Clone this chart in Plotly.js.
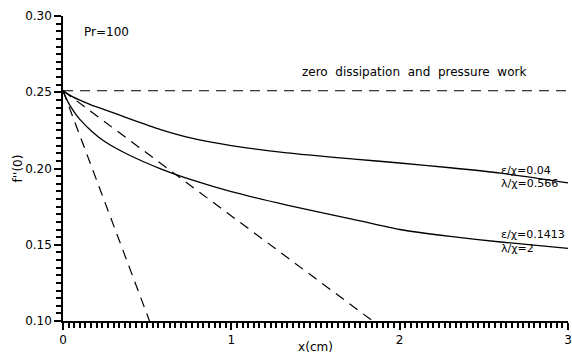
<!DOCTYPE html>
<html>
<head>
<meta charset="utf-8">
<script src="https://cdn.plot.ly/plotly-3.0.1.min.js"></script>
<style>html,body{margin:0;padding:0;background:#fff;}#chart{width:572px;height:354px;}</style>
</head>
<body>
<div id="chart"></div>
<script>
// Upper solid curve: eps/chi = 0.04, lambda/chi = 0.566
const xUpper = [0, 0.05, 0.1, 0.17, 0.25, 0.38, 0.58, 0.77, 1.0, 1.33, 1.73, 2.0, 2.3, 2.6, 3.0];
const yUpper = [0.251, 0.2475, 0.2448, 0.2416, 0.2385, 0.2332, 0.2255, 0.2197, 0.2150, 0.2103, 0.2062, 0.2036, 0.2005, 0.1970, 0.1906];

// Lower solid curve: eps/chi = 0.1413, lambda/chi = 2
const xLower = [0, 0.03, 0.07, 0.1, 0.17, 0.25, 0.38, 0.58, 0.78, 1.0, 1.33, 1.73, 2.0, 2.3, 2.6, 3.0];
const yLower = [0.251, 0.2435, 0.2365, 0.2322, 0.2245, 0.2175, 0.2095, 0.1998, 0.1920, 0.1848, 0.1760, 0.1665, 0.1600, 0.1555, 0.1518, 0.1476];

// Dashed asymptotic lines
const xSteep = [0, 0.514];
const ySteep = [0.251, 0.10];
const xMid = [0, 1.84];
const yMid = [0.251, 0.10];
const xZero = [0, 3];
const yZero = [0.251, 0.251];

// Annotation texts
const prText = "Pr=100";
const zeroText = "zero  dissipation  and  pressure  work";
const labelsUpper = ["ε/χ=0.04", "λ/χ=0.566"];
const labelsLower = ["ε/χ=0.1413", "λ/χ=2"];

const FONT = "DejaVu Sans, sans-serif";
const solid = {color: "#000", width: 1.3, shape: "spline", smoothing: 0.6};
const dashed = {color: "#000", width: 1.2, dash: "10px,7px"};

const traces = [
  {x: xZero, y: yZero, mode: "lines", line: dashed},
  {x: xSteep, y: ySteep, mode: "lines", line: dashed},
  {x: xMid, y: yMid, mode: "lines", line: dashed},
  {x: xUpper, y: yUpper, mode: "lines", line: solid},
  {x: xLower, y: yLower, mode: "lines", line: solid}
];

const layout = {
  width: 572, height: 354,
  margin: {l: 63, r: 4, t: 16, b: 33},
  paper_bgcolor: "#fff", plot_bgcolor: "#fff",
  showlegend: false,
  font: {family: FONT, size: 12, color: "#000"},
  xaxis: {
    range: [0, 3], showgrid: false, zeroline: false,
    showline: true, linecolor: "black", linewidth: 1.5,
    dtick: 1,
    ticks: "outside", ticklen: 7, tickcolor: "black", tickwidth: 1.5,
    minor: {ticks: "outside", ticklen: 5, tickcolor: "black", tickwidth: 1.5, dtick: 1/30, showgrid: false},
    tickfont: {family: FONT, size: 12},
    title: {text: "x(cm)", font: {family: FONT, size: 12}, standoff: 2}
  },
  yaxis: {
    range: [0.10, 0.30], showgrid: false, zeroline: false,
    showline: true, linecolor: "black", linewidth: 1.5,
    dtick: 0.05, tickformat: ".2f",
    ticks: "outside", ticklen: 7, tickcolor: "black", tickwidth: 1.5,
    minor: {ticks: "outside", ticklen: 5, tickcolor: "black", tickwidth: 1.5, dtick: 0.005, showgrid: false},
    tickfont: {family: FONT, size: 12},
    title: {text: "f''(0)", font: {family: FONT, size: 12}, standoff: 0}
  },
  annotations: [
    {x: 0.26, y: 0.2895, xref: "x", yref: "y", text: prText, showarrow: false, xanchor: "center", yanchor: "middle", font: {family: FONT, size: 12}},
    {x: 2.76, y: 0.2633, xref: "x", yref: "y", text: zeroText, showarrow: false, xanchor: "right", yanchor: "middle", font: {family: FONT, size: 12}},
    {x: 2.593, y: 0.1990, xref: "x", yref: "y", text: labelsUpper[0], showarrow: false, xanchor: "left", yanchor: "middle", font: {family: FONT, size: 11}},
    {x: 2.593, y: 0.1903, xref: "x", yref: "y", text: labelsUpper[1], showarrow: false, xanchor: "left", yanchor: "middle", font: {family: FONT, size: 11}},
    {x: 2.593, y: 0.1565, xref: "x", yref: "y", text: labelsLower[0], showarrow: false, xanchor: "left", yanchor: "middle", font: {family: FONT, size: 11}},
    {x: 2.593, y: 0.1478, xref: "x", yref: "y", text: labelsLower[1], showarrow: false, xanchor: "left", yanchor: "middle", font: {family: FONT, size: 11}}
  ]
};

Plotly.newPlot("chart", traces, layout, {displayModeBar: false});
</script>
</body>
</html>
